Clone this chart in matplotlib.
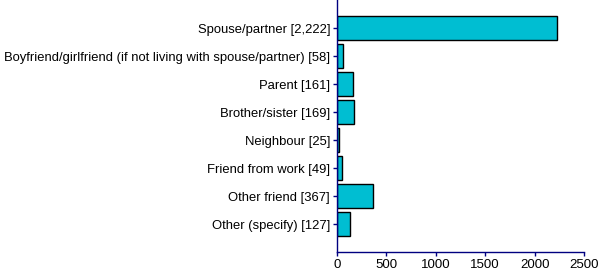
import matplotlib
matplotlib.use("Agg")
import matplotlib.pyplot as plt

categories = ["Spouse/partner", "Boyfriend/girlfriend (if not living with spouse/partner)",
              "Parent", "Brother/sister", "Neighbour", "Friend from work",
              "Other friend", "Other (specify)"]
values = [2222, 58, 161, 169, 25, 49, 367, 127]
labels = [f"{c} [{v:,}]" for c, v in zip(categories, values)]
xticks = [0, 500, 1000, 1500, 2000, 2500]

plt.rcParams['font.family'] = ['Liberation Sans', 'DejaVu Sans']
fig = plt.figure(figsize=(6.0, 2.76), dpi=100)
ax = fig.add_axes([337/600, 24/276, 247/600, 252/276])
pos = list(range(len(values)))
ax.barh(pos, values, height=0.86, color="#00BED2", edgecolor="black", linewidth=1)
ax.set_ylim(8, -1)
ax.set_xlim(0, 2500)
ax.set_yticks(pos)
ax.set_yticklabels(labels, fontsize=9.4)
ax.set_xticks(xticks)
ax.set_xticklabels([str(t) for t in xticks], fontsize=9.5)
for s in ["top", "right"]:
    ax.spines[s].set_visible(False)
for s in ["left", "bottom"]:
    ax.spines[s].set_color("#000080")
    ax.spines[s].set_linewidth(1)
ax.tick_params(axis="both", colors="#000080", labelcolor="black", length=3, width=1, pad=2)
fig.savefig("out.png", dpi=100)
